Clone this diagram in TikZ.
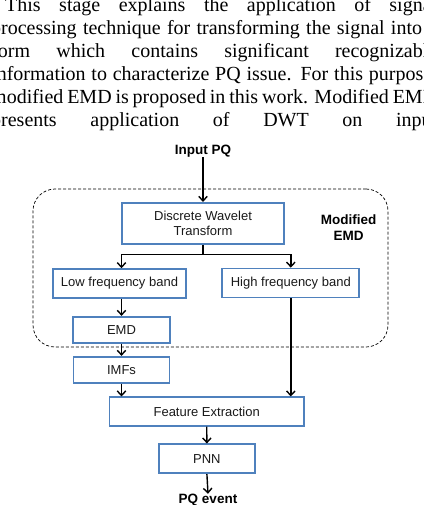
\documentclass[tikz,border=0pt]{standalone}
\usepackage{fontspec}
\setmainfont{Liberation Serif}
\newfontfamily\arialf{Liberation Sans}
\usetikzlibrary{arrows.meta}
\definecolor{boxblue}{HTML}{4F81BD}
\begin{document}
\begin{tikzpicture}[x=1pt,y=-1pt,
  box/.style={draw=boxblue,line width=1.7pt,inner sep=0pt,align=center,font=\arialf\fontsize{13}{15}\selectfont,text=black!90},
  lbl/.style={font=\arialf\bfseries\fontsize{13.5}{16}\selectfont,align=center,inner sep=0pt},
  arr/.style={line width=1.4pt,-{Straight Barb[length=4.5pt,width=8.5pt]}},
  para/.style={anchor=base west,inner sep=0pt,font=\fontsize{20}{23}\selectfont},
  group/.style={draw,line width=0.7pt,dash pattern=on 3pt off 2pt,rounded corners=22pt,inner sep=0pt}]
\useasboundingbox (0,0) rectangle (423,505);
\clip (0,0) rectangle (423,505);
% paragraph (cut off at the picture's edges, as in the reference)
\node[para] (t1) at (5,12)  {\makebox[432pt][s]{This stage explains the application of signal}};
\node[para] (t2) at (-9,35) {\makebox[446pt][s]{processing technique for transforming the signal into a}};
\node[para] (t3) at (-9,58) {\makebox[446pt][s]{form which contains significant recognizable}};
\node[para] (t4) at (-9,81) {\makebox[446pt][s]{information to characterize PQ issue. For this purpose,}};
\node[para] (t5) at (-9,104) {\makebox[446pt][s]{modified EMD is proposed in this work. Modified EMD}};
\node[para] (t6) at (-9,127) {\makebox[446pt][s]{presents application of DWT on input}};
% group
\node[group,minimum width=355pt,minimum height=158pt] (grp) at (210.5,268) {};
\node[lbl] (mod) at (348.5,228) {Modified\\EMD};
% diagram
\node[lbl] (inp) at (203,151) {Input PQ};
\node[box,minimum width=161.7pt,minimum height=41.3pt] (dwt) at (203,223.4) {Discrete Wavelet\\Transform};
\node[box,minimum width=132.4pt,minimum height=29pt] (low) at (119.5,283.5) {Low frequency band};
\node[box,minimum width=137pt,minimum height=29pt] (high) at (290.8,283) {High frequency band};
\node[box,minimum width=97.4pt,minimum height=26pt] (emd) at (121.5,329.7) {EMD};
\node[box,minimum width=96pt,minimum height=26pt] (imf) at (121.5,369.7) {IMFs};
\node[box,minimum width=194.7pt,minimum height=28.4pt] (fe) at (206.7,411.5) {Feature Extraction};
\node[box,minimum width=95.7pt,minimum height=29pt] (pnn) at (206.9,458.8) {PNN};
\node[lbl] (pqe) at (208,500) {PQ event};
% connectors
\draw[arr] (inp.south) -- (dwt.north);
\draw[arr] (dwt.south) -- ++(0,9.3) -| (low.north -| emd.north);
\draw[arr] (dwt.south) -- ++(0,9.3) -| (high.north);
\draw[arr] (low.south -| emd.north) -- (emd.north);
\draw[arr] (emd.south) -- (imf.north);
\draw[arr] (imf.south) -- (imf.south |- fe.north);
\draw[arr] (high.south) -- (high.south |- fe.north);
\draw[arr] (fe.south) -- (pnn.north);
\draw[arr] (pnn.south) -- (pqe.north);
\end{tikzpicture}
\end{document}
